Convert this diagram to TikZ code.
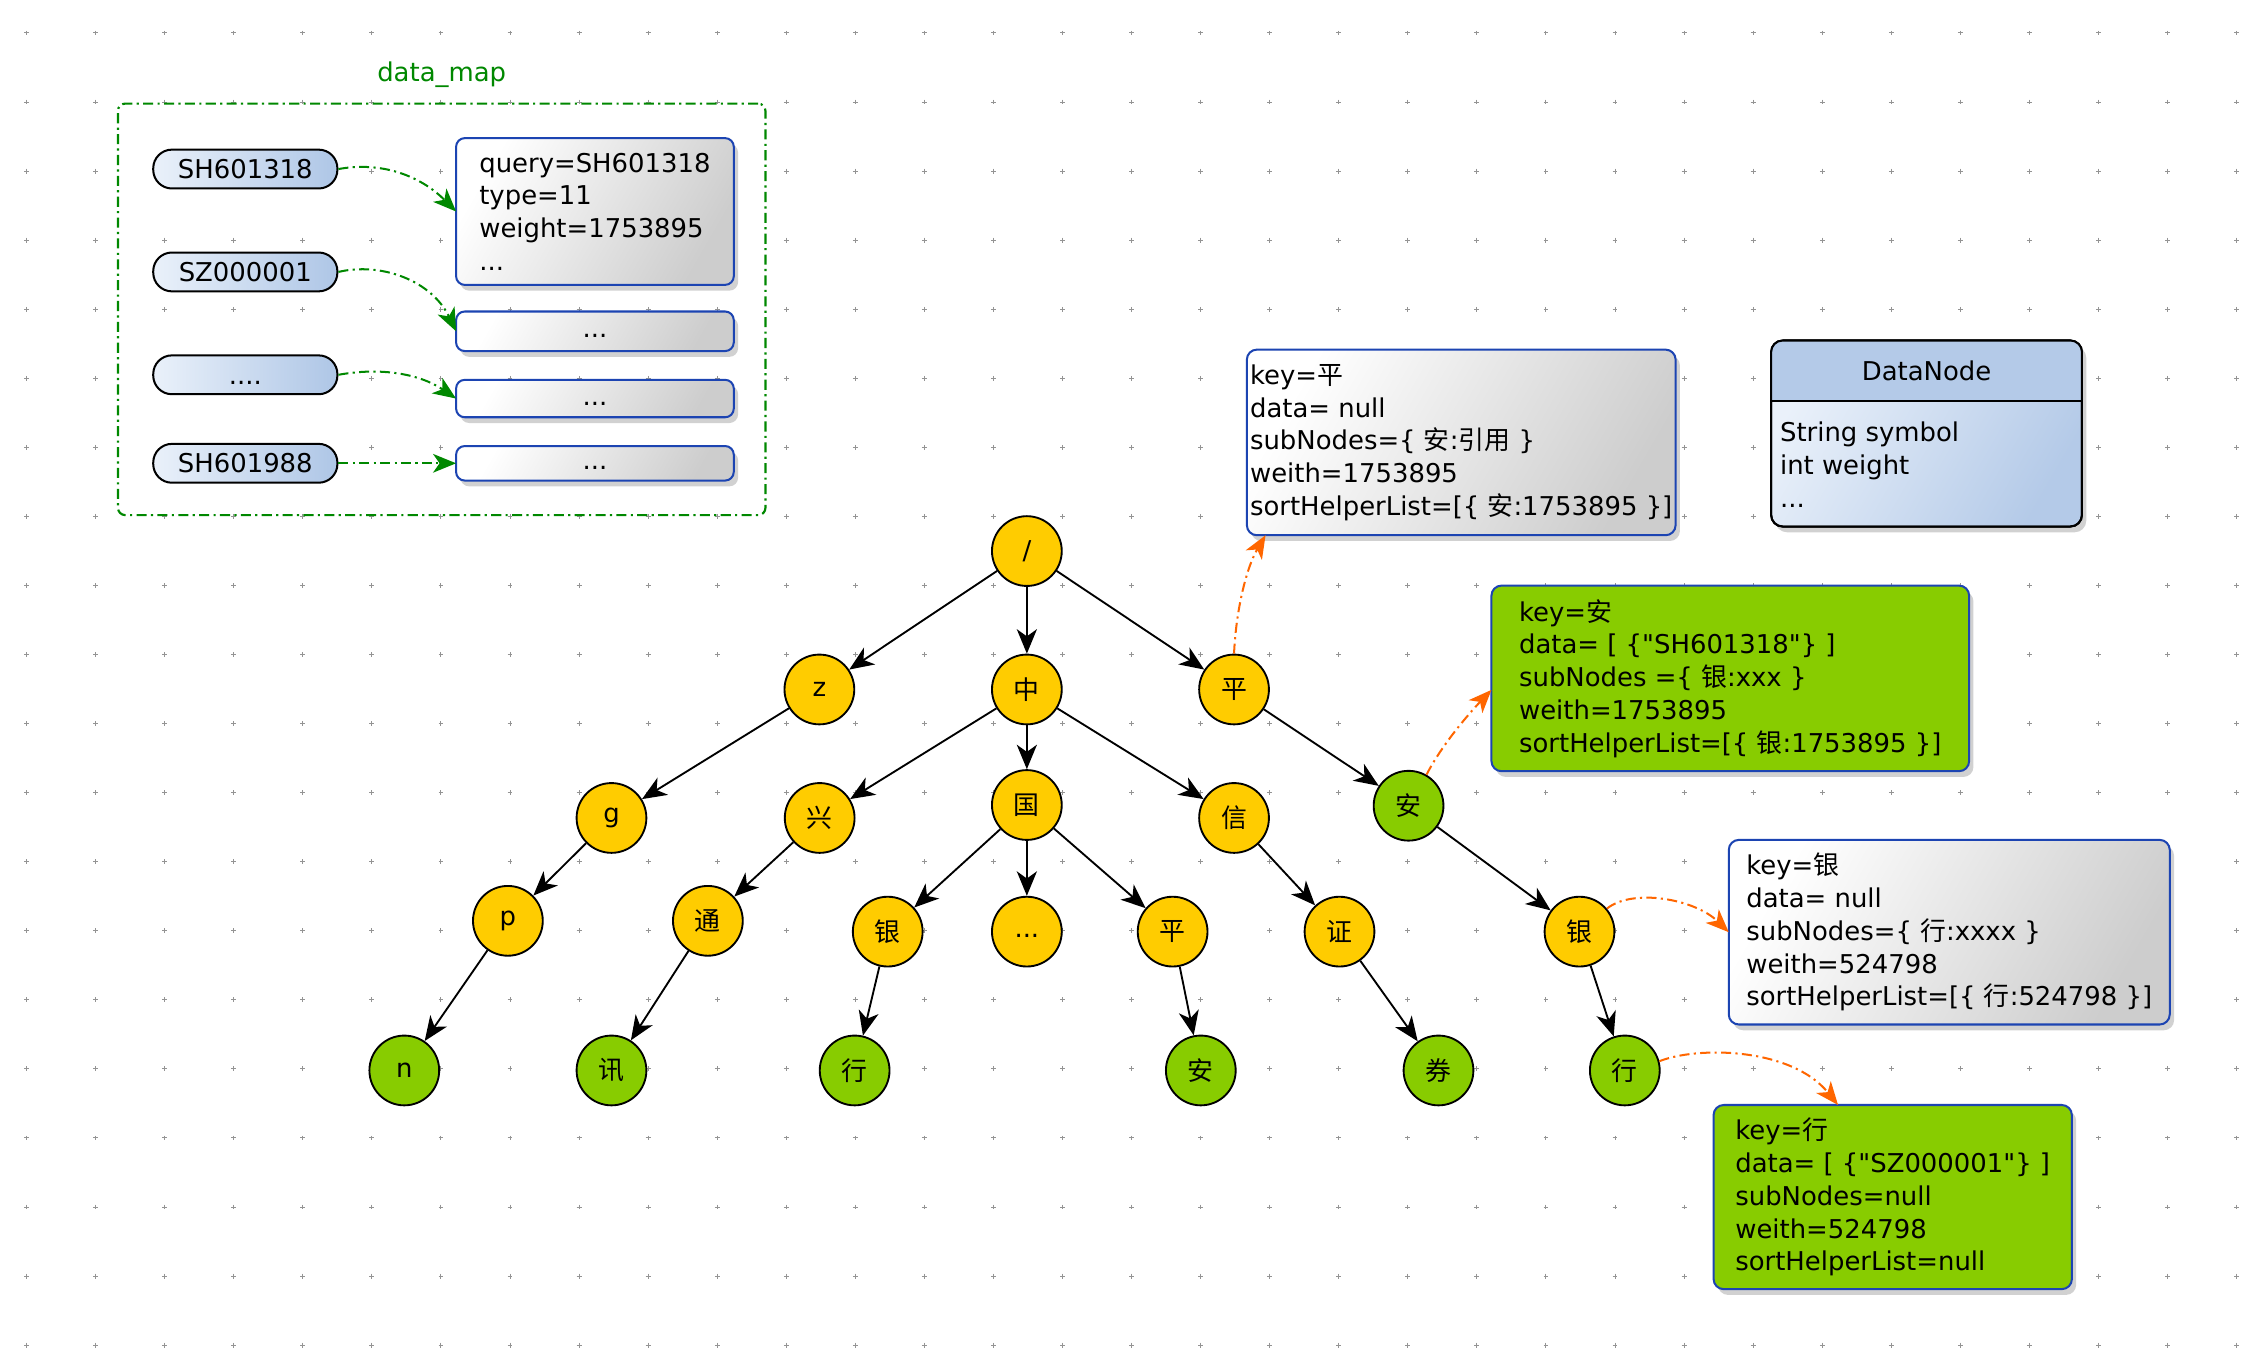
\documentclass[tikz,border=0pt]{standalone}
\usepackage{fontspec}
\setmainfont{DejaVu Sans}
\newfontfamily\cjk{Noto Sans CJK SC}
\newfontfamily\dvq{DejaVu Sans}
\newcommand\zhc[1]{{\cjk #1}}
\newcommand\qd{{\dvq"}}
\newcommand\fsz{\fontsize{18}{22.75}\selectfont}
\usetikzlibrary{arrows.meta,shadows,calc}
\definecolor{ycol}{RGB}{255,204,0}
\definecolor{gcol}{RGB}{136,204,0}
\definecolor{bbd}{RGB}{28,68,178}
\definecolor{dmg}{RGB}{0,136,0}
\definecolor{orc}{RGB}{255,102,0}
\definecolor{pilll}{RGB}{234,241,250}
\definecolor{pillr}{RGB}{174,198,230}
\definecolor{dnh}{RGB}{180,202,232}
\definecolor{grayr}{RGB}{205,205,205}
\begin{document}
\begin{tikzpicture}[x=1pt,y=-1pt,font=\fsz,
  gridc/.style={draw=black!42,line width=0.7pt},
  yn/.style={circle,draw=black,line width=1.3pt,fill=ycol,minimum size=48.5pt,inner sep=0pt},
  gn/.style={yn,fill=gcol},
  tedge/.style={draw=black,line width=1.3pt,-{Stealth[length=17pt,width=14pt,inset=5pt]}},
  dashdot/.style={dash pattern=on 7pt off 3pt on 1.5pt off 3pt},
  oarr/.style={draw=orc,line width=1.4pt,dashdot,-{Stealth[length=16pt,width=13pt,inset=4.5pt]}},
  garr/.style={draw=dmg,line width=1.4pt,dashdot,-{Stealth[length=16pt,width=13pt,inset=4.5pt]}},
  shbox/.style={drop shadow={shadow xshift=3pt,shadow yshift=-4pt,opacity=0.18,fill=black}},
  dmtitle/.style={text=dmg},
  dmframe/.style={draw=dmg,line width=1.5pt,dashdot,rounded corners=5pt,inner sep=0pt},
  pill/.style={draw=black,line width=1.4pt,rounded corners=13pt,minimum width=128pt,
     minimum height=27pt,inner sep=0pt,left color=pilll,right color=pillr,
     text height=13pt,text depth=0pt},
  rec/.style={draw=bbd,line width=1.4pt,rounded corners=6pt,minimum width=193pt,inner sep=0pt,
     outer sep=0pt,top color=white,bottom color=grayr,shading angle=60,shbox},
  dotrec/.style={rec,text height=9pt,text depth=0pt},
  gbox/.style={rec,align=left,rounded corners=7pt},
  kbox/.style={draw=bbd,line width=1.4pt,rounded corners=7pt,inner sep=0pt,outer sep=0pt,
     fill=gcol,align=left,shbox},
  dnbox/.style={draw=black,line width=1.4pt,rounded corners=8pt,inner sep=0pt,outer sep=0pt,
     top color=pilll,bottom color=dnh,shading angle=60,shbox}
]
\useasboundingbox (0,0) rectangle (1568,950.8);
\fill[white] (0,0) rectangle (1568,950.8);
% grid of small crosses
\foreach \i in {0,...,32}{\foreach \j in {0,...,19}{
  \draw[gridc] ({18.5+48*\i-1.7},{22.9+48*\j}) -- ++(3.4,0)
               ({18.5+48*\i},{22.9+48*\j-1.7}) -- ++(0,3.4);
}}
% ---------- data_map ----------
\node[dmtitle] (dmt) at (307,52) {data\_map};
\node[dmframe,minimum width=450pt,minimum height=286pt] (dm) at (307,215) {};
\node[pill] (s1) at (170.5,117.5) {SH601318};
\node[pill] (s2) at (170.5,189) {SZ000001};
\node[pill] (s3) at (170.5,260.5) {....};
\node[pill] (s4) at (170.5,322) {SH601988};
\node[rec,minimum height=102pt,align=left] (d1) at (413.5,147)
  {query=SH601318\\type=11\\weight=1753895\\...};
\node[dotrec,minimum height=27.5pt] (d2) at (413.5,230.25) {...};
\node[dotrec,minimum height=26pt] (d3) at (413.5,277) {...};
\node[dotrec,minimum height=24pt] (d4) at (413.5,322) {...};
\draw[garr] (s1.east) .. controls (265,112) and (292,122) .. (d1.west);
\draw[garr] (s2.east) .. controls (265,182) and (300,195) .. (d2.west);
\draw[garr] (s3.east) .. controls (265,255) and (292,260) .. (d3.west);
\draw[garr] (s4.east) -- (d4.west);
% ---------- info boxes ----------
\node[gbox,minimum width=298pt,minimum height=129pt] (kp) at (1015.6,307.5)
  {key=\zhc{平}\\data= null\\subNodes=\{ \zhc{安}:\zhc{引用} \}\\weith=1753895\\sortHelperList=[\{ \zhc{安}:1753895 \}]};
\node[kbox,minimum width=332pt,minimum height=129pt] (ka) at (1202.6,471.5)
  {key=\zhc{安}\\data= [ \{\qd SH601318\qd\} ]\\subNodes =\{ \zhc{银}:xxx \}\\weith=1753895\\sortHelperList=[\{ \zhc{银}:1753895 \}]};
\node[gbox,minimum width=306.5pt,minimum height=128.3pt] (kb) at (1354.8,647.9)
  {key=\zhc{银}\\data= null\\subNodes=\{ \zhc{行}:xxxx \}\\weith=524798\\sortHelperList=[\{ \zhc{行}:524798 \}]};
\node[kbox,minimum width=249pt,minimum height=128pt] (kh) at (1315.5,832)
  {key=\zhc{行}\\data= [ \{\qd SZ000001\qd\} ]\\subNodes=null\\weith=524798\\sortHelperList=null};
% DataNode
\node[dnbox,minimum width=216pt,minimum height=129.3pt] (dn) at (1339,301.3) {};
\begin{scope}
  \clip[rounded corners=8pt] (dn.north west) rectangle (dn.south east);
  \fill[dnh] (dn.north west) rectangle ($(dn.north east)+(0,42)$);
\end{scope}
\draw[line width=1.4pt] ($(dn.north west)+(0,42)$) -- ($(dn.north east)+(0,42)$);
\draw[line width=1.4pt,rounded corners=8pt] (dn.north west) rectangle (dn.south east);
\node (dnt) at (1339,258) {DataNode};
\node[anchor=west,align=left,inner sep=0pt] (dnb) at (1237,323) {String symbol\\int weight\\...};
% ---------- trie ----------
\node[yn] (r) at (713.7,383) {/};
\node[yn] (z) at (569.5,479.2) {z};
\node[yn] (zh) at (713.7,479.2) {\zhc{中}};
\node[yn] (ping) at (857.7,479.2) {\zhc{平}};
\node[yn] (g) at (425,568.5) {g};
\node[yn] (xing) at (569.7,568.5) {\zhc{兴}};
\node[yn] (guo) at (713.7,559.5) {\zhc{国}};
\node[yn] (xin) at (857.7,568.5) {\zhc{信}};
\node[gn] (an) at (979,560) {\zhc{安}};
\node[yn] (p) at (353,640) {p};
\node[yn] (tong) at (492,640) {\zhc{通}};
\node[yn] (yin) at (617,647.5) {\zhc{银}};
\node[yn,text height=8pt,text depth=0pt] (dots) at (713.7,647.5) {...};
\node[yn] (ping2) at (815,647.5) {\zhc{平}};
\node[yn] (zheng) at (931,647.5) {\zhc{证}};
\node[yn] (yin2) at (1097.8,647.5) {\zhc{银}};
\node[gn] (n) at (281,744) {n};
\node[gn] (xun) at (425,744) {\zhc{讯}};
\node[gn] (hang) at (594,744) {\zhc{行}};
\node[gn] (an2) at (834.6,744) {\zhc{安}};
\node[gn] (quan) at (999.8,744) {\zhc{券}};
\node[gn] (hang2) at (1129.3,744) {\zhc{行}};
\draw[tedge] (r) -- (z);
\draw[tedge] (r) -- (zh);
\draw[tedge] (r) -- (ping);
\draw[tedge] (z) -- (g);
\draw[tedge] (zh) -- (xing);
\draw[tedge] (zh) -- (guo);
\draw[tedge] (zh) -- (xin);
\draw[tedge] (ping) -- (an);
\draw[tedge] (g) -- (p);
\draw[tedge] (xing) -- (tong);
\draw[tedge] (guo) -- (yin);
\draw[tedge] (guo) -- (dots);
\draw[tedge] (guo) -- (ping2);
\draw[tedge] (xin) -- (zheng);
\draw[tedge] (an) -- (yin2);
\draw[tedge] (p) -- (n);
\draw[tedge] (tong) -- (xun);
\draw[tedge] (yin) -- (hang);
\draw[tedge] (ping2) -- (an2);
\draw[tedge] (zheng) -- (quan);
\draw[tedge] (yin2) -- (hang2);
% ---------- orange links ----------
\draw[oarr] (ping.north) .. controls (859,425) and (866,395) .. ($(kp.south west)+(13,0)$);
\draw[oarr] (an.60) .. controls (1002,518) and (1020,497) .. ($(ka.west)+(0,8)$);
\draw[oarr] (yin2.40) .. controls (1135,617) and (1178,625) .. (kb.west);
\draw[oarr] (hang2.15) .. controls (1180,727) and (1245,728) .. ($(kh.north west)+(86.5,0)$);
\end{tikzpicture}
\end{document}
